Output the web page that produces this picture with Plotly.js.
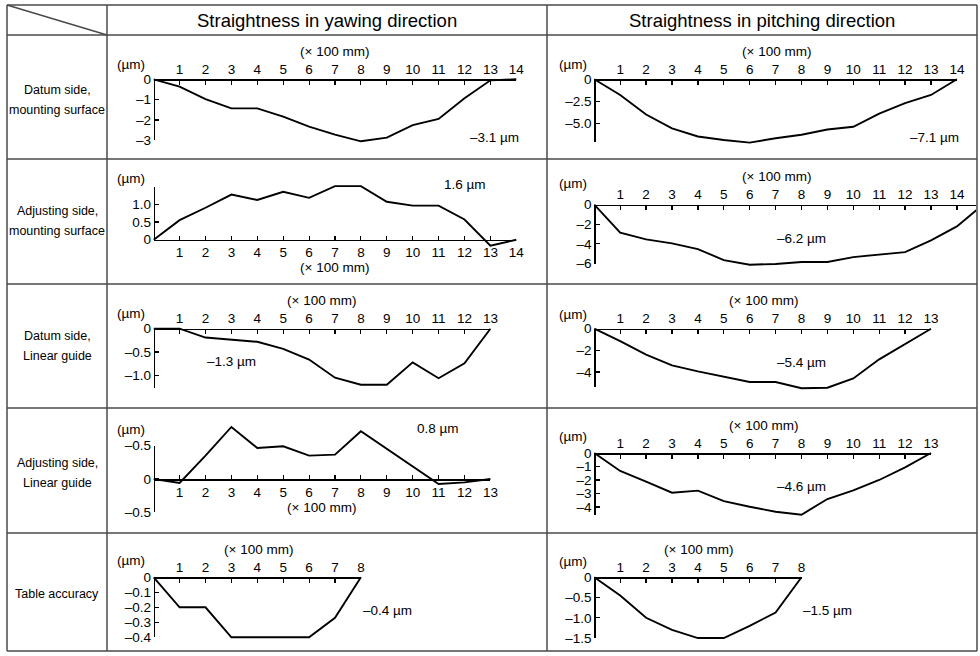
<!DOCTYPE html>
<html><head><meta charset="utf-8">
<script src="https://cdn.plot.ly/plotly-3.0.1.min.js"></script>
<style>html,body{margin:0;padding:0;background:#fff}</style>
</head><body><div id="chart" style="width:980px;height:656px"></div>
<script>
// ---------------- data ----------------
const pos8  = [0,1,2,3,4,5,6,7,8];
const pos13 = [0,1,2,3,4,5,6,7,8,9,10,11,12,13];
const pos14 = [0,1,2,3,4,5,6,7,8,9,10,11,12,13,14];
const pos15 = [0,1,2,3,4,5,6,7,8,9,10,11,12,13,14,15];

const yawDatumMount   = [0,-0.36,-0.98,-1.43,-1.43,-1.84,-2.33,-2.72,-3.05,-2.87,-2.25,-1.95,-0.93,-0.05,0];
const pitchDatumMount = [0,-1.78,-4.0,-5.57,-6.5,-6.9,-7.2,-6.7,-6.3,-5.7,-5.4,-3.9,-2.7,-1.78,0];
const yawAdjMount     = [0,0.55,0.9,1.27,1.12,1.35,1.18,1.51,1.51,1.07,0.96,0.96,0.57,-0.17,0];
const pitchAdjMount   = [0,-2.87,-3.55,-3.96,-4.54,-5.67,-6.14,-6.07,-5.87,-5.87,-5.36,-5.12,-4.85,-3.65,-2.22,0];
const yawDatumGuide   = [0,0,-0.19,-0.24,-0.28,-0.43,-0.66,-1.05,-1.2,-1.2,-0.72,-1.06,-0.74,0];
const pitchDatumGuide = [0,-1.14,-2.4,-3.38,-3.94,-4.4,-4.92,-4.92,-5.5,-5.45,-4.6,-2.83,-1.42,0];
const yawAdjGuide     = [0,-0.06,0.35,0.78,0.465,0.49,0.35,0.365,0.715,0.45,0.19,-0.075,-0.05,0];
const pitchAdjGuide   = [0,-1.33,-2.12,-2.94,-2.79,-3.56,-3.98,-4.35,-4.57,-3.41,-2.77,-2.0,-1.06,0];
const tableYaw        = [0,-0.2,-0.2,-0.4,-0.4,-0.4,-0.4,-0.27,0];
const tablePitch      = [0,-0.45,-1.0,-1.3,-1.5,-1.5,-1.2,-0.87,0];

const xTicks8  = [1,2,3,4,5,6,7,8];
const xTicks13 = [1,2,3,4,5,6,7,8,9,10,11,12,13];
const xTicks14 = [1,2,3,4,5,6,7,8,9,10,11,12,13,14];

const yTicksA = [0,-1,-2,-3];           const yTextA = ['0','–1','–2','–3'];
const yTicksB = [0,-2.5,-5];            const yTextB = ['0','–2.5','–5.0'];
const yTicksC = [0,0.5,1.0];            const yTextC = ['0','0.5','1.0'];
const yTicksD = [0,-2,-4,-6];           const yTextD = ['0','–2','–4','–6'];
const yTicksE = [0,-0.5,-1.0];          const yTextE = ['0','–0.5','–1.0'];
const yTicksF = [0,-2,-4];              const yTextF = ['0','–2','–4'];
const yTicksG = [0.5,0,-0.5];           const yTextG = ['–0.5','0','–0.5'];
const yTicksH = [0,-1,-2,-3,-4];        const yTextH = ['0','–1','–2','–3','–4'];
const yTicksI = [0,-0.1,-0.2,-0.3,-0.4];const yTextI = ['0','–0.1','–0.2','–0.3','–0.4'];
const yTicksJ = [0,-0.5,-1.0,-1.5];     const yTextJ = ['0','–0.5','–1.0','–1.5'];

const valueLabels = ['–3.1 µm','–7.1 µm','1.6 µm','–6.2 µm','–1.3 µm','–5.4 µm','0.8 µm','–4.6 µm','–0.4 µm','–1.5 µm'];
const rowLabels = [['Datum side,','mounting surface'],['Adjusting side,','mounting surface'],['Datum side,','Linear guide'],['Adjusting side,','Linear guide'],['Table accuracy']];
const colLabels = ['Straightness in yawing direction','Straightness in pitching direction'];
const xUnit = '(× 100 mm)';
const yUnit = '(µm)';

// ---------------- layout ----------------
const W = 980, H = 656, UX = 25.9;
const FONT = 'Liberation Sans, Arial, sans-serif';
const TS = 13.5;
const px = v => v / W;
const py = v => 1 - v / H;

const cells = [
  {x:pos14, y:yawDatumMount,   x0:153.7, y0:79.3,  uy:20.33, xmax:14, ymin:-3,    ymax:0,    side:'top',    xt:xTicks14, yt:yTicksA, ytt:yTextA, unit:[334.7,52],  um:[131.3,64.3], val:[494,137.7]},
  {x:pos14, y:pitchDatumMount, x0:594.3, y0:79.3,  uy:8.8,   xmax:14, ymin:-7.1,  ymax:0,    side:'top',    xt:xTicks14, yt:yTicksB, ytt:yTextB, unit:[776.7,52],  um:[573.3,64.3], val:[934.7,137.7]},
  {x:pos14, y:yawAdjMount,     x0:153.7, y0:239.7, uy:35.5,  xmax:14, ymin:0,     ymax:1.48, side:'bottom', xt:xTicks14, yt:yTicksC, ytt:yTextC, unit:[334.7,268],um:[131.3,178], val:[464.7,184.7]},
  {x:pos15, y:pitchAdjMount,   x0:594.3, y0:204.7, uy:9.77,  xmax:14.75,ymin:-6.07,ymax:0,   side:'top',    xt:xTicks14, yt:yTicksD, ytt:yTextD, unit:[776.7,176.3],um:[573.3,183], val:[801.7,238], clipRight:976},
  {x:pos13, y:yawDatumGuide,   x0:153.7, y0:328.7, uy:46.7,  xmax:13, ymin:-1.27, ymax:0,    side:'top',    xt:xTicks13, yt:yTicksE, ytt:yTextE, unit:[321.3,300.3],um:[131.3,313.7], val:[231,361.3]},
  {x:pos13, y:pitchDatumGuide, x0:594.3, y0:328.7, uy:10.83, xmax:13, ymin:-5.38, ymax:0,    side:'top',    xt:xTicks13, yt:yTicksF, ytt:yTextF, unit:[763.3,300.3],um:[573.3,314.3], val:[801.7,362]},
  {x:pos13, y:yawAdjGuide,     x0:153.7, y0:479,   uy:66.7,  xmax:13, ymin:-0.5,  ymax:0.5,  side:'bottom', xt:xTicks13, yt:yTicksG, ytt:yTextG, unit:[321.3,507.5],um:[131.3,429], val:[438.3,428]},
  {x:pos13, y:pitchAdjGuide,   x0:594.3, y0:453,   uy:13.5,  xmax:13, ymin:-4.57, ymax:0,    side:'top',    xt:xTicks13, yt:yTicksH, ytt:yTextH, unit:[763.3,425.7],um:[573.3,436.3], val:[801.7,486.3]},
  {x:pos8,  y:tableYaw,        x0:153.7, y0:577.3, uy:150,   xmax:8,  ymin:-0.4,  ymax:0,    side:'top',    xt:xTicks8,  yt:yTicksI, ytt:yTextI, unit:[258,549],   um:[131.3,560.7], val:[387,610]},
  {x:pos8,  y:tablePitch,      x0:594.3, y0:577.3, uy:40.5,  xmax:8,  ymin:-1.5,  ymax:0,    side:'top',    xt:xTicks8,  yt:yTicksJ, ytt:yTextJ, unit:[698.3,549], um:[573.3,561.3], val:[827.3,610]}
];

const traces = [];
const layout = {
  width: W, height: H, margin: {l:0, r:0, t:0, b:0},
  paper_bgcolor: '#ffffff', plot_bgcolor: 'rgba(0,0,0,0)',
  showlegend: false, font: {family: FONT, size: TS, color: '#000'},
  annotations: [], shapes: []
};
const key = (p, n) => n === 1 ? p : p + n;
const ann = (t, p, size) => layout.annotations.push({text: t, xref: 'paper', yref: 'paper', x: px(p[0]), y: py(p[1]),
  xanchor: 'center', yanchor: 'middle', showarrow: false, borderpad: 0, font: {size: size || TS, family: FONT, color: '#000'}});

cells.forEach((c, i) => {
  const nd = 2 * i + 1, nv = 2 * i + 2;
  const xEnd = c.x0 + c.xmax * UX;
  // data axes (hidden) with scale identical to visible axes
  const dl = c.x0 - 10, dr = c.clipRight ? c.clipRight : xEnd + 10;
  const dmax = Math.max(c.ymax, Math.max.apply(null, c.y));
  const dmin = Math.min(c.ymin, Math.min.apply(null, c.y));
  const topPx = c.y0 - dmax * c.uy - 10, botPx = c.y0 - dmin * c.uy + 10;
  layout[key('xaxis', nd)] = {domain: [px(dl), px(dr)], range: [(dl - c.x0) / UX, (dr - c.x0) / UX],
    visible: false, fixedrange: true, anchor: key('y', nd)};
  layout[key('yaxis', nd)] = {domain: [py(botPx), py(topPx)], range: [(c.y0 - botPx) / c.uy, (c.y0 - topPx) / c.uy],
    visible: false, fixedrange: true, anchor: key('x', nd)};
  traces.push({x: c.x, y: c.y, xaxis: key('x', nd), yaxis: key('y', nd), mode: 'lines',
    line: {color: '#000', width: 1.9}, hoverinfo: 'skip'});
  // visible axes
  layout[key('xaxis', nv)] = {domain: [px(c.x0), px(xEnd)], range: [0, c.xmax], anchor: 'free',
    position: py(c.y0), side: c.side, showline: true, linecolor: '#000', linewidth: 1.5,
    ticks: 'inside', ticklen: 4, tickwidth: 1.2, tickcolor: '#000', tickmode: 'array',
    tickvals: c.xt, ticktext: c.xt.map(String), tickfont: {size: TS, family: FONT},
    showgrid: false, zeroline: false, fixedrange: true};
  layout[key('yaxis', nv)] = {domain: [py(c.y0 - c.ymin * c.uy), py(c.y0 - c.ymax * c.uy)], range: [c.ymin, c.ymax],
    anchor: 'free', position: px(c.x0), side: 'left', showline: true, linecolor: '#000', linewidth: 1.5,
    ticks: 'inside', ticklen: 4, tickwidth: 1.2, tickcolor: '#000', tickmode: 'array',
    tickvals: c.yt, ticktext: c.ytt, tickfont: {size: TS, family: FONT},
    showgrid: false, zeroline: false, fixedrange: true};
  traces.push({x: [], y: [], xaxis: key('x', nv), yaxis: key('y', nv), mode: 'lines', hoverinfo: 'skip'});
  ann(xUnit, c.unit);
  ann(yUnit, c.um);
  ann(valueLabels[i], c.val);
});

// table frame
const L = 7, R = 977, T = 5, B = 651, C1 = 107, C2 = 547;
const rowLines = [35, 159, 284, 408, 533];
const lineStyle = {color: '#4a4a4a', width: 1.5};
const seg = (x0, y0, x1, y1) => layout.shapes.push({type: 'line', xref: 'paper', yref: 'paper',
  x0: px(x0), y0: py(y0), x1: px(x1), y1: py(y1), line: lineStyle, layer: 'below'});
seg(L, T, R, T); seg(L, B, R, B); seg(L, T, L, B); seg(R, T, R, B);
seg(C1, T, C1, B); seg(C2, T, C2, B);
rowLines.forEach(y => seg(L, y, R, y));
seg(L, T, C1, rowLines[0]);

// headers and row labels
const colCenters = [327, 762];
colLabels.forEach((t, i) => ann(t, [colCenters[i], 21], 18.5));
const rowCenters = [100, 221, 346, 473, 594];
rowLabels.forEach((lines, i) => lines.forEach((t, j) =>
  ann(t, [57, rowCenters[i] + (j - (lines.length - 1) / 2) * 19.5], 12.5)));

Plotly.newPlot('chart', traces, layout, {displayModeBar: false, staticPlot: true});
</script>
</body></html>
